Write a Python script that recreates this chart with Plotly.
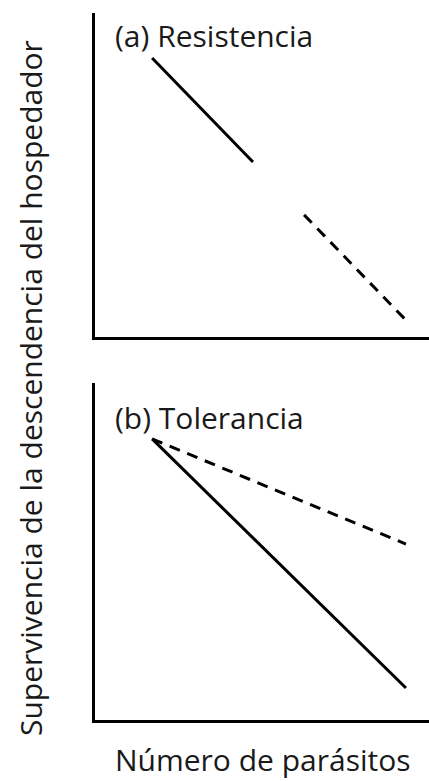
import plotly.graph_objects as go

# Values (arbitrary units, axes 0-10)
res_solid_x = [1.71, 4.73]
res_solid_y = [8.61, 5.40]
res_dash_x = [6.26, 9.31]
res_dash_y = [3.77, 0.52]

tol_solid_x = [1.71, 9.31]
tol_solid_y = [8.34, 0.95]
tol_dash_x = [1.71, 9.31]
tol_dash_y = [8.34, 5.22]

panel_titles = ["(a) Resistencia", "(b) Tolerancia"]
x_title = "Número de parásitos"
y_title = "Supervivencia de la descendencia del hospedador"

W, H = 429, 781
FONT = "Open Sans"
TXT = "#1a1a1a"

fig = go.Figure()
line_solid = dict(color="black", width=3)
line_dash = dict(color="black", width=3, dash="11px,8px")

fig.add_trace(go.Scatter(x=res_solid_x, y=res_solid_y, mode="lines", line=line_solid, xaxis="x", yaxis="y"))
fig.add_trace(go.Scatter(x=res_dash_x, y=res_dash_y, mode="lines", line=line_dash, xaxis="x", yaxis="y"))
fig.add_trace(go.Scatter(x=tol_solid_x, y=tol_solid_y, mode="lines", line=line_solid, xaxis="x2", yaxis="y2"))
fig.add_trace(go.Scatter(x=tol_dash_x, y=tol_dash_y, mode="lines", line=line_dash, xaxis="x2", yaxis="y2"))

xdom = [95 / W, 1.0]
ydom_top = [1 - 337 / H, 1 - 13 / H]
ydom_bot = [1 - 720 / H, 1 - 383 / H]

ax_common = dict(range=[0, 10], showgrid=False, zeroline=False, showticklabels=False,
                 ticks="", showline=True, linecolor="black", linewidth=3, fixedrange=True)

fig.update_layout(
    width=W, height=H,
    margin=dict(l=0, r=0, t=0, b=0),
    paper_bgcolor="white", plot_bgcolor="white",
    showlegend=False,
    xaxis=dict(domain=xdom, anchor="y", **ax_common),
    yaxis=dict(domain=ydom_top, anchor="x", **ax_common),
    xaxis2=dict(domain=xdom, anchor="y2", **ax_common),
    yaxis2=dict(domain=ydom_bot, anchor="x2", **ax_common),
    font=dict(family=FONT, color=TXT),
)

fig.add_annotation(text=panel_titles[0], xref="paper", yref="paper",
                   x=113 / W, y=1 - 35 / H, xanchor="left", yanchor="middle",
                   showarrow=False, font=dict(family=FONT, size=30, color=TXT))
fig.add_annotation(text=panel_titles[1], xref="paper", yref="paper",
                   x=113 / W, y=1 - 417 / H, xanchor="left", yanchor="middle",
                   showarrow=False, font=dict(family=FONT, size=30, color=TXT))
fig.add_annotation(text=x_title, xref="paper", yref="paper",
                   x=263 / W, y=1 - 759 / H, xanchor="center", yanchor="middle",
                   showarrow=False, font=dict(family=FONT, size=30, color=TXT))
fig.add_annotation(text=y_title, xref="paper", yref="paper",
                   x=30 / W, y=1 - 388 / H, xanchor="center", yanchor="middle",
                   textangle=-90, showarrow=False, font=dict(family=FONT, size=30, color=TXT))

fig.write_html("out.html", config={"displayModeBar": False},
               post_script="document.body.style.margin='0';document.body.style.overflow='hidden';")
